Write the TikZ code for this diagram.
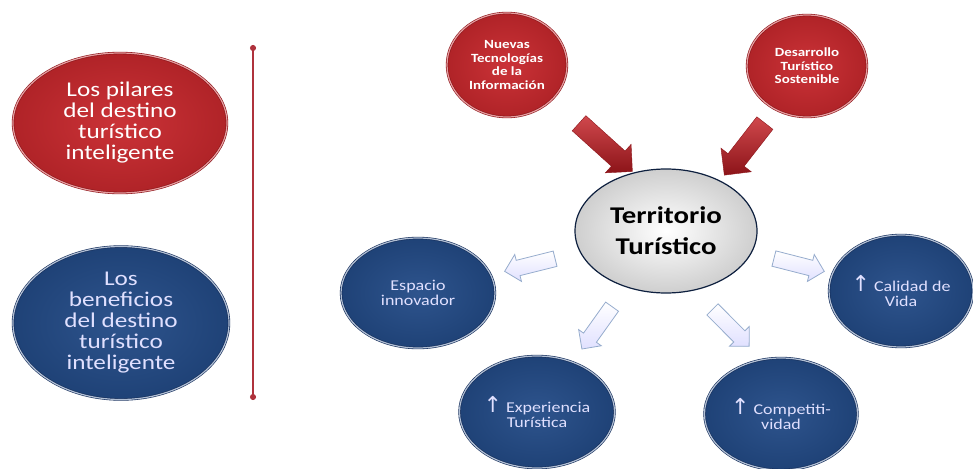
\documentclass[tikz,border=0pt]{standalone}
\usepackage{fontspec}
\setmainfont{Carlito}[FakeStretch=1.2]
\newfontfamily\arrowfont{DejaVu Sans}
\usetikzlibrary{shapes.geometric}
\usetikzlibrary{shapes.arrows}
\usetikzlibrary{arrows.meta}
\definecolor{pilarred}{RGB}{200,40,45}
\definecolor{pilarreddark}{RGB}{140,20,25}
\definecolor{benblue}{RGB}{35,75,135}
\definecolor{benbluedark}{RGB}{20,45,90}
\definecolor{linered}{RGB}{175,50,60}
\definecolor{warrowline}{RGB}{150,172,205}
\newcommand{\upar}{{\arrowfont\fontsize{22}{15}\selectfont ↑}}
\tikzset{every node/.style={align=center, inner sep=0pt},
  redball/.style={ % red bevelled ellipse
    ellipse, shade, inner color=pilarred!95!white, outer color=pilarred!88!black,
    draw=pilarreddark, double=pilarred!45!white, double distance=1.2pt,
    line width=0.6pt, text=white},
  blueball/.style={ % blue bevelled ellipse
    ellipse, shade, inner color=benblue!95!white, outer color=benblue!88!black,
    draw=benbluedark, double=benblue!35!white, double distance=1.2pt,
    line width=0.6pt, text=white!88!blue},
  centreball/.style={
    ellipse, shade, inner color=white, outer color=gray!38,
    draw=benbluedark!70!black, line width=1.2pt, text=black},
  redarrow/.style={ % block arrow into the centre
    single arrow, sloped, allow upside down, shade,
    top color=pilarred!85!white, bottom color=pilarreddark,
    draw=pilarreddark, line width=0.4pt,
    text height=0pt, text depth=0pt, inner xsep=0pt, inner ysep=10pt,
    single arrow head extend=9pt},
  warrow/.style={ % light block arrow out of the centre
    single arrow, sloped, allow upside down, shade,
    top color=white, bottom color=blue!12!white,
    draw=warrowline, line width=0.8pt,
    text height=0pt, text depth=0pt, inner xsep=0pt, inner ysep=7.5pt,
    single arrow head extend=6pt, minimum height=52pt},
  divline/.style={draw=linered, line width=1.5pt,
    {Circle[length=6pt]}-{Circle[length=6pt]}}
}
\begin{document}
\begin{tikzpicture}[x=1pt, y=-1pt]
  \useasboundingbox (0,0) rectangle (973,468);

  % left-hand legend
  \node [redball, minimum width=214pt, minimum height=140pt,
    font=\fontsize{21}{21}\selectfont] (pil) at (120,123)
    {Los pilares\\ del destino\\ turístico\\ inteligente};
  \node [blueball, minimum width=216pt, minimum height=153pt,
    font=\fontsize{21}{21}\selectfont] (ben) at (121,323)
    {Los\\ beneficios\\ del destino\\ turístico\\ inteligente};

  \coordinate (ltop) at (253,45);
  \coordinate (lbot) at (253,400);
  \draw [divline] (ltop) -- (lbot);

  % the two pillars
  \node [redball, minimum width=120pt, minimum height=104pt,
    font=\bfseries\fontsize{12.5}{13.5}\selectfont] (nti) at (507,65)
    {Nuevas\\ Tecnologías\\ de la\\ Información};
  \node [redball, minimum width=120pt, minimum height=102pt,
    font=\bfseries\fontsize{12.5}{13.5}\selectfont] (dts) at (807,66)
    {Desarrollo\\ Turístico\\ Sostenible};

  \node [centreball, minimum width=182pt, minimum height=124pt,
    font=\bfseries\fontsize{24}{31}\selectfont] (terr) at (666,231)
    {Territorio\\ Turístico};

  % the benefits
  \node [blueball, minimum width=154pt, minimum height=110pt,
    font=\fontsize{15}{15}\selectfont] (esp) at (418,293)
    {Espacio\\ innovador};
  \node [blueball, minimum width=155pt, minimum height=112pt,
    font=\fontsize{15}{15}\selectfont] (exp) at (537,412)
    {\upar\ Experiencia\\ Turística};
  \node [blueball, minimum width=144pt, minimum height=112pt,
    font=\fontsize{15}{15}\selectfont] (cal) at (901,291)
    {\upar\ Calidad de\\ Vida};
  \node [blueball, minimum width=153pt, minimum height=112pt,
    font=\fontsize{15}{15}\selectfont] (comp) at (781,414)
    {\upar\ Competiti-\\ vidad};

  % pillars feed the territory
  \path (nti.-37) -- node [redarrow, pos=0.61, minimum height=72pt] {} (terr.119);
  \path (dts.234) -- node [redarrow, pos=0.5, minimum height=66pt] {} (terr.43);

  % territory gives the benefits
  \path (terr) -- node [warrow, pos=0.52] {} (esp);
  \path (terr) -- node [warrow, pos=0.5] {} (exp);
  \path (terr) -- node [warrow, pos=0.54] {} (cal);
  \path (terr.-65) -- node [warrow, pos=0.5] {} (comp.109);

\end{tikzpicture}
\end{document}
